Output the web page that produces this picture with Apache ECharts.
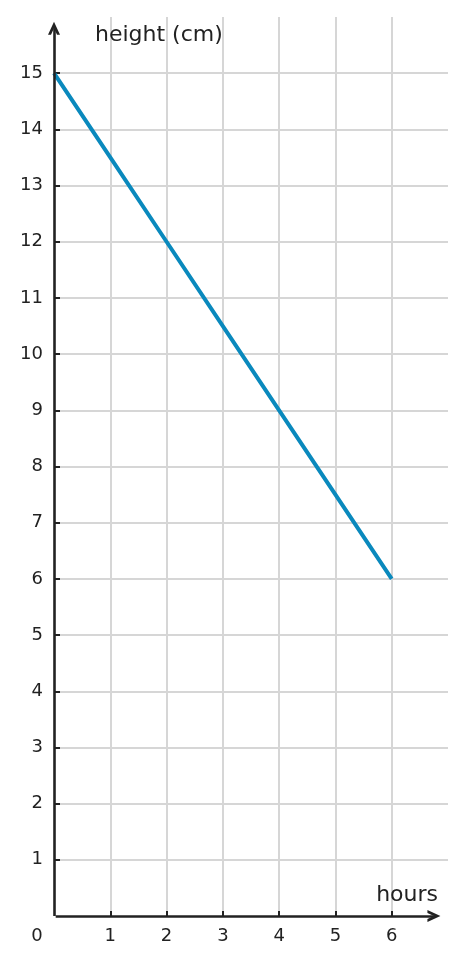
<!DOCTYPE html>
<html>
<head>
<meta charset="utf-8">
<script src="https://cdn.jsdelivr.net/npm/echarts@6/dist/echarts.min.js"></script>
<style>html,body{margin:0;padding:0;background:#fff;}#c{width:465px;height:965px;}</style>
</head>
<body>
<div id="c"></div>
<script>
const hours = [0, 1, 2, 3, 4, 5, 6];
const heights = [15, 13.5, 12, 10.5, 9, 7.5, 6];
const xTicks = [0, 1, 2, 3, 4, 5, 6];
const yTicks = [1, 2, 3, 4, 5, 6, 7, 8, 9, 10, 11, 12, 13, 14, 15];
const xName = 'hours';
const yName = 'height (cm)';

const chart = echarts.init(document.getElementById('c'));
const ink = '#222222';
const font = 'DejaVu Sans';
const chevron = 'path://M0,10 L5,0 L10,10 L7.5,10 L5,5 L2.5,10 Z';

chart.setOption({
  animation: false,
  grid: { left: 54, right: 17, top: 17, bottom: 49, containLabel: false },
  xAxis: {
    type: 'value', min: 0, max: 7, interval: 1,
    name: xName, nameLocation: 'end', nameGap: -10,
    nameTextStyle: { color: ink, fontFamily: font, fontSize: 22, align: 'right', verticalAlign: 'bottom', padding: [0, 0, 10, 0] },
    axisLine: { show: false },
    axisTick: { show: true, inside: true, length: 5, lineStyle: { color: ink, width: 2 }, customValues: xTicks.slice(1) },
    axisLabel: {
      customValues: xTicks, margin: 11, color: ink, fontFamily: font, fontSize: 18,
      formatter: v => v === 0 ? '{z|0}' : String(v),
      rich: { z: { padding: [0, 34, 0, 0], color: ink, fontFamily: font, fontSize: 18 } }
    },
    splitLine: { show: true, lineStyle: { color: '#d6d6d6', width: 2 } }
  },
  yAxis: {
    type: 'value', min: 0, max: 16, interval: 1,
    name: yName, nameLocation: 'end', nameGap: -18,
    nameTextStyle: { color: ink, fontFamily: font, fontSize: 22, align: 'left', verticalAlign: 'middle', padding: [0, 0, 0, 41] },
    axisLine: { show: false },
    axisTick: { show: true, inside: true, length: 6, lineStyle: { color: ink, width: 2 }, customValues: yTicks },
    axisLabel: { customValues: yTicks, margin: 11, color: ink, fontFamily: font, fontSize: 18 },
    splitLine: { show: true, lineStyle: { color: '#d6d6d6', width: 2 } }
  },
  series: [
    {
      type: 'line',
      data: hours.map((h, i) => [h, heights[i]]),
      showSymbol: false,
      lineStyle: { color: '#0a89bd', width: 4 },
      z: 3
    },
    {
      type: 'line',
      data: [],
      markLine: {
        silent: true,
        animation: false,
        label: { show: false },
        symbol: ['none', chevron],
        symbolSize: [12, 13],
        lineStyle: { color: ink, width: 2.6, type: 'solid' },
        data: [
          [{ coord: [0, 0] }, { coord: [0, 15.8] }],
          [{ coord: [0.03, 0] }, { coord: [6.75, 0] }]
        ]
      },
      z: 4
    }
  ]
});
</script>
</body>
</html>
